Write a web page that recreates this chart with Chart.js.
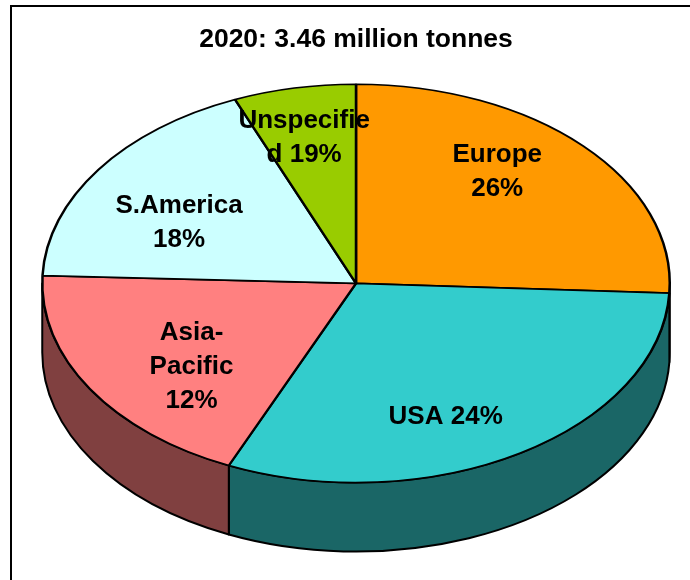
<!DOCTYPE html>
<html>
<head>
<meta charset="utf-8">
<script src="https://cdn.jsdelivr.net/npm/chart.js@4"></script>
<style>
  body { margin: 0; background: #fff; }
  #wrap { position: relative; width: 690px; height: 580px; }
  #frame { position: absolute; left: 10px; top: 5px; right: 0; bottom: 0;
           border-top: 2px solid #000; border-left: 2px solid #000; pointer-events: none; }
</style>
</head>
<body>
<div id="wrap">
  <canvas id="pieChart" width="690" height="580"></canvas>
  <div id="frame"></div>
</div>
<script>
// slice sizes as drawn (share of the circle), labels as printed on the chart
const regions = ["Europe", "USA", "Asia-Pacific", "S.America", "Unspecified"];
const shares = [25.8, 30.9, 19.0, 18.1, 6.3];
const labelLines = [
  ["Europe", "26%"],
  ["USA 24%"],
  ["Asia-", "Pacific", "12%"],
  ["S.America", "18%"],
  ["Unspecifie", "d 19%"],
];

const topColours = ["#FF9900", "#33CCCC", "#FF8080", "#CCFFFF", "#99CC00"];
const sideColours = ["#804D00", "#1A6666", "#804040", "#668080", "#4D6600"];

// 3d look
const stretchX = 1.575;
const depth = 69;
const labelFrac = [0.72, 0.73, 0.67, 0.64, 0.75];
const labelTurn = [-7.7, 8.6, -6.6, -6.6, -1.4];

const pie3d = {
  id: "pie3d",
  beforeDatasetsDraw(chart) {
    const ctx = chart.ctx;
    const arcs = chart.getDatasetMeta(0).data;
    // side walls, front half only
    arcs.forEach(function (el, i) {
      const a0 = Math.max(el.startAngle, 0);
      const a1 = Math.min(el.endAngle, Math.PI);
      if (a1 <= a0) return;
      ctx.save();
      ctx.translate(el.x, 0);
      ctx.scale(stretchX, 1);
      ctx.translate(-el.x, 0);
      ctx.beginPath();
      ctx.arc(el.x, el.y, el.outerRadius, a0, a1);
      ctx.arc(el.x, el.y + depth, el.outerRadius, a1, a0, true);
      ctx.closePath();
      ctx.restore();
      ctx.fillStyle = sideColours[i];
      ctx.fill();
      ctx.lineWidth = 2;
      ctx.strokeStyle = "#000";
      ctx.lineJoin = "round";
      ctx.stroke();
    });
    // squash the top face into an ellipse
    const cx = arcs[0].x;
    ctx.save();
    ctx.translate(cx, 0);
    ctx.scale(stretchX, 1);
    ctx.translate(-cx, 0);
  },
  afterDatasetsDraw(chart) {
    const ctx = chart.ctx;
    ctx.restore();
    const arcs = chart.getDatasetMeta(0).data;
    ctx.save();
    ctx.fillStyle = "#000";
    ctx.font = "bold 26px 'Liberation Sans', Arial, sans-serif";
    ctx.textAlign = "center";
    ctx.textBaseline = "middle";
    arcs.forEach(function (el, i) {
      const mid = (el.startAngle + el.endAngle) / 2 + labelTurn[i] * Math.PI / 180;
      const rr = el.outerRadius * labelFrac[i];
      const px = el.x + stretchX * rr * Math.cos(mid);
      const py = el.y + rr * Math.sin(mid);
      const lines = labelLines[i];
      lines.forEach(function (t, k) {
        ctx.fillText(t, px, py + (k - (lines.length - 1) / 2) * 34);
      });
    });
    ctx.restore();
  },
};

const data = {
  labels: regions,
  datasets: [
    {
      data: shares,
      backgroundColor: topColours,
      borderColor: "#000",
      borderWidth: 1.6,
      hoverOffset: 0,
      clip: false,
    },
  ],
};

const config = {
  type: "pie",
  data: data,
  options: {
    responsive: false,
    animation: false,
    events: [],
    layout: { padding: { left: 156, right: 134, top: 0, bottom: 96 } },
    plugins: {
      legend: { display: false },
      tooltip: { enabled: false },
      title: {
        display: true,
        text: "2020: 3.46 million tonnes",
        color: "#000",
        font: { family: "'Liberation Sans', Arial, sans-serif", size: 26.5, weight: "bold" },
        padding: { top: 24, bottom: 27 },
      },
    },
  },
  plugins: [pie3d],
};

const PieChart = new Chart(document.getElementById("pieChart"), config);
</script>
</body>
</html>
